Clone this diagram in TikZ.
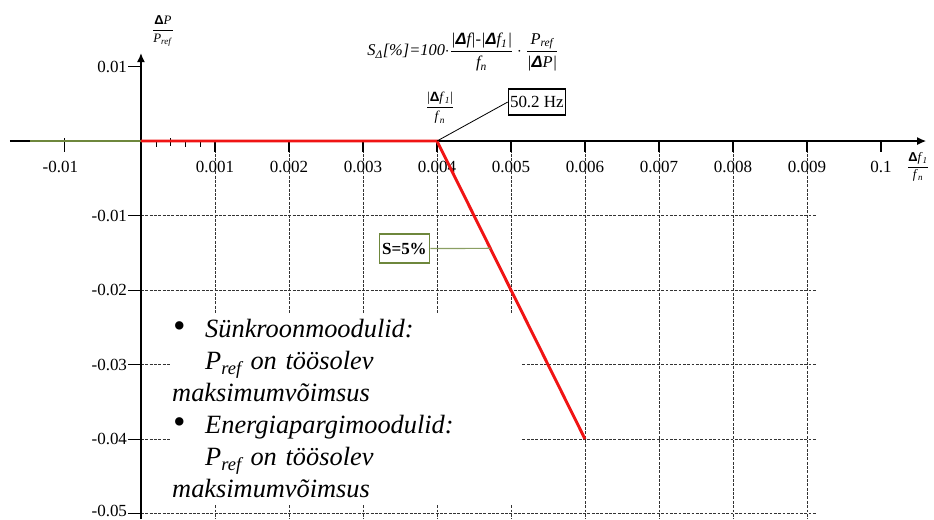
\documentclass[tikz,border=0pt]{standalone}
\usepackage{amsmath}
\usepackage{fontspec}
\setmainfont{Liberation Serif}[ItalicFont={Liberation Serif Italic},BoldFont={Liberation Serif Bold}]
\newfontfamily\sansdelta{Liberation Sans}
\usetikzlibrary{arrows.meta,positioning}
\definecolor{kurvpunane}{RGB}{240,20,20}
\definecolor{oliiv}{RGB}{110,135,60}
\newcommand{\dlt}{{\sansdelta\bfseries Δ}}
\newcommand{\suurtapp}{{\fontsize{30}{30}\selectfont\textbullet}}

\begin{document}
\begin{tikzpicture}[x=2.22cm,y=2.235cm,
  ruudustik/.style={line width=0.7pt, black!80, dash pattern=on 2.5pt off 1.2pt},
  telg/.style={line width=1.1pt, -{Latex[length=2.7mm,width=2.4mm]}},
  jaotis/.style={line width=0.9pt},
  silt/.style={font=\fontsize{14.5}{17}\selectfont},
  kast/.style={draw, line width=1pt, fill=white, minimum height=0.8cm}]
\useasboundingbox (-1.905,-5.074) rectangle (10.716,1.893);

% Ruudustik
\foreach \i in {1,...,9} \draw[ruudustik] (\i,0) -- (\i,-5.074);
\foreach \j in {1,...,5} \draw[ruudustik] (0,-\j) -- (9.13,-\j);

% Selgitus
\node[anchor=north west, fill=white, inner xsep=0.06cm, inner ysep=0.18cm,
      text width=10.44cm, align=left, font=\fontsize{22.5}{27.3}\selectfont\itshape]
  (selgitus) at (0.392,-2.309)
  {\makebox[0.99cm][l]{\hspace{0.02cm}\suurtapp}Sünkroonmoodulid:\\
   \hspace*{0.99cm}P\textsubscript{ref} on töösolev\\
   maksimumvõimsus\\
   \makebox[0.99cm][l]{\hspace{0.02cm}\suurtapp}Energiapargimoodulid:\\
   \hspace*{0.99cm}P\textsubscript{ref} on töösolev\\
   maksimumvõimsus};

% Teljed
\draw[telg] (-1.77,0) -- (10.61,0);
\draw[telg] (0,-5.074) -- (0,1.18);

% Jaotised
\foreach \i in {1,...,10} \draw[jaotis] (\i,0) -- (\i,-0.15);
\foreach \i in {0.2,0.6,0.8} \draw (\i,0) -- (\i,-0.08);
\draw (0.4,0.04) -- (0.4,-0.07);
\draw[jaotis] (-1.03,0.04) -- (-1.03,-0.15);
\foreach \j in {1,-1,-2,-3,-4,-5} \draw[jaotis] (-0.17,\j) -- (0,\j);

\foreach \i/\lbl in {1/0.001,2/0.002,3/0.003,4/0.004,5/0.005,6/0.006,7/0.007,8/0.008,9/0.009,10/0.1}
  \node[silt] at (\i,-0.35) {\lbl};
\node[silt] at (-1.09,-0.35) {-0.01};
\foreach \j/\lbl in {1/0.01,-1/-0.01,-2/-0.02,-3/-0.03,-4/-0.04}
  \node[silt, anchor=east, inner xsep=1pt] at (-0.17,\j) {\lbl};
\node[silt, anchor=east, inner xsep=1pt, yshift=2pt] at (-0.17,-5) {-0.05};

% Telgede nimed
\node[font=\fontsize{11}{13}\selectfont] (ynimi) at (0.297,1.477)
  {$\dfrac{\mbox{\dlt\textit{P}}}{\mbox{\textit{P}\textsubscript{\textit{ref}}}}$};
\node[font=\fontsize{11}{13}\selectfont] (xnimi) at (10.5,-0.349)
  {$\dfrac{\mbox{\dlt\textit{f}\textsubscript{\textit{1}}}}{\mbox{\textit{f}\textsubscript{\textit{n}}}}$};

% Valem
\node[font=\fontsize{14}{16}\selectfont\itshape] (valem) at (4.35,1.195)
  {S\textsubscript{Δ}[\%]=100$\cdot\dfrac{\mbox{|\dlt\textit{f}|-|\dlt\textit{f}\textsubscript{\textit{1}}|}}{\mbox{\textit{f}\textsubscript{\textit{n}}}}\cdot\dfrac{\mbox{\textit{P}\textsubscript{\textit{ref}}}}{\mbox{|\dlt\textit{P}|}}$};

% Tunnusjoon
\coordinate (O) at (0,0);
\coordinate (murre) at (4,0);
\coordinate (lopp) at (6,-4);
\draw[oliiv, line width=2.5pt] (-1.5,0) -- (O);
\draw[kurvpunane, line width=2.5pt] (O) -- (murre) -- coordinate[pos=0.36] (kalle) (lopp);

\node[font=\fontsize{11.5}{13}\selectfont] (murdesilt) at (4.04,0.443)
  {$\dfrac{\mbox{|\dlt\textit{f}\textsubscript{\textit{1}}|}}{\mbox{\textit{f}\textsubscript{\textit{n}}}}$};

% Kastid
\node[kast, silt, inner xsep=1.5pt, minimum height=0.78cm] (hz) at (5.35,0.523) {50.2 Hz};
\draw[line width=0.7pt] (hz.west) -- (murre);
\node[kast, draw=oliiv, silt, font=\fontsize{14.5}{17}\selectfont\bfseries, inner xsep=2.5pt, minimum height=0.87cm] (s5) at (3.56,-1.443) {S=5\%};
\draw[oliiv!80, line width=1pt] (s5.east) -- (kalle);
\end{tikzpicture}
\end{document}
